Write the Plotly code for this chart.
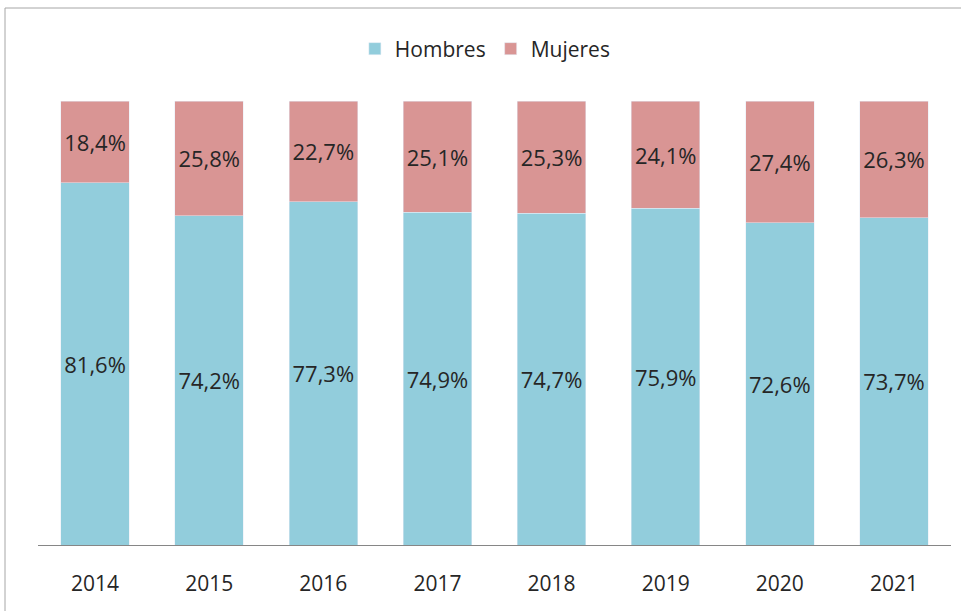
import plotly.graph_objects as go

years = ["2014", "2015", "2016", "2017", "2018", "2019", "2020", "2021"]
hombres = [81.6, 74.2, 77.3, 74.9, 74.7, 75.9, 72.6, 73.7]
mujeres = [18.4, 25.8, 22.7, 25.1, 25.3, 24.1, 27.4, 26.3]

W, H = 961, 611
L, R, T, B = 38, 10, 101, 66
pw, ph = W - L - R, H - T - B
FONT = "Open Sans, sans-serif"
TXT = "#262626"

fig = go.Figure()
fig.add_trace(go.Bar(x=years, y=hombres, name="Hombres", marker_color="#92CDDC",
                     texttemplate="%{y:.1f}%", textposition="inside",
                     insidetextanchor="middle", textangle=0,
                     textfont=dict(size=22, color=TXT, family=FONT)))
fig.add_trace(go.Bar(x=years, y=mujeres, name="Mujeres", marker_color="#D99594",
                     texttemplate="%{y:.1f}%", textposition="inside",
                     insidetextanchor="middle", textangle=0,
                     textfont=dict(size=22, color=TXT, family=FONT)))

fig.update_layout(
    barmode="stack", bargap=0.4, separators=",.",
    width=W, height=H, margin=dict(l=L, r=R, t=T, b=B),
    paper_bgcolor="white", plot_bgcolor="white",
    font=dict(family=FONT, color=TXT),
    legend=dict(orientation="h", x=0.49, xanchor="center", y=1 + (T - 49) / ph, yanchor="middle",
                font=dict(size=21, family=FONT, color=TXT), traceorder="normal", itemwidth=30),
    xaxis=dict(showline=True, linecolor="#868686", linewidth=1, ticks="",
               tickfont=dict(size=21, family=FONT, color=TXT), ticklabelstandoff=20),
    yaxis=dict(range=[0, 100], visible=False, showgrid=False),
    shapes=[
        dict(type="line", xref="paper", yref="paper", x0=(5 - L) / pw, x1=(5 - L) / pw,
             y0=1 + (T - 8) / ph, y1=-(B + 5) / ph, line=dict(color="#a6a6a6", width=1)),
        dict(type="line", xref="paper", yref="paper", x0=(5 - L) / pw, x1=(W + 5 - L) / pw,
             y0=1 + (T - 8) / ph, y1=1 + (T - 8) / ph, line=dict(color="#a6a6a6", width=1)),
    ],
)
fig.write_html("out.html", config={"displayModeBar": False},
               post_script="document.body.style.margin='0px';")
